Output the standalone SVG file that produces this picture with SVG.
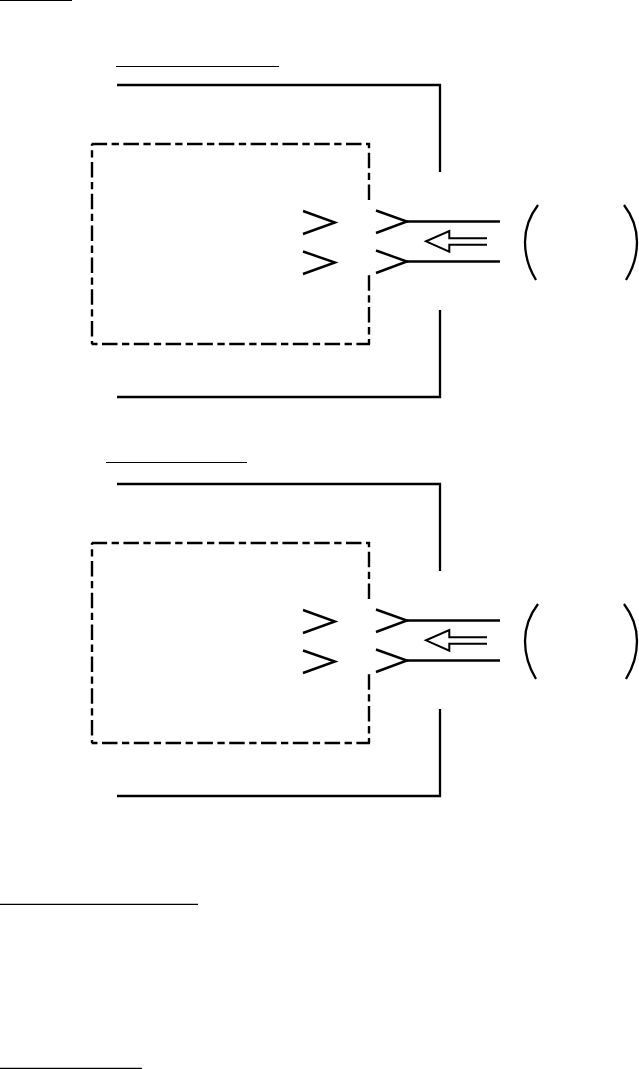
<svg xmlns="http://www.w3.org/2000/svg" width="639" height="1069" viewBox="0 0 639 1069">
<style>
.l{fill:none;stroke:#000;stroke-width:2.3}
.c{fill:none;stroke:#000;stroke-width:2.4}
.r{fill:none;stroke:#000;stroke-width:1.2}
.d{fill:none;stroke:#000;stroke-width:2.4;stroke-dasharray:15.5 4.5 7.3 4.5}
.a{fill:#fff;stroke:#000;stroke-width:2}
</style>
<defs>
<g id="unit">
<path class="l" d="M117 85H440V172"/>
<path class="l" d="M440 310V397H117"/>
<path class="d" d="M91.600 144H369V200.700"/>
<path class="d" d="M369 275.300V344"/>
<path class="d" stroke-dashoffset="13.800" d="M92 144V344"/>
<path class="d" stroke-dashoffset="21.400" d="M91.600 344H370"/>
<path class="c" d="M303 211L335 222.500L303 234"/>
<path class="c" d="M303 251.500L335 262.500L303 274"/>
<path class="c" d="M376 210.500L407 221.500L376 233"/>
<path class="c" d="M376 250.500L407 261.500L376 273"/>
<path class="l" d="M407 221.500H500"/>
<path class="l" d="M407 261.500H500"/>
<path class="a" d="M487 238.300H449.300V231L426 241.300L449.300 251.700V244.800H487"/>
<path class="l" d="M538 205Q525 222 525 242T536 280"/>
<path class="l" d="M624 205Q637 222 637 242T626 280"/>
</g>
</defs>
<g id="rule-top"><path class="r" d="M0 .5H72"/></g>
<g id="rule-1"><path class="r" d="M116 66.500H279"/></g>
<g id="unit-1"><use href="#unit"/></g>
<g id="rule-2"><path class="r" d="M106 462.500H247"/></g>
<g id="unit-2"><use href="#unit" y="399"/></g>
<g id="rule-3"><path class="r" d="M0 904.400H198"/></g>
<g id="rule-4"><path class="r" d="M0 1068.400H142"/></g>
</svg>
